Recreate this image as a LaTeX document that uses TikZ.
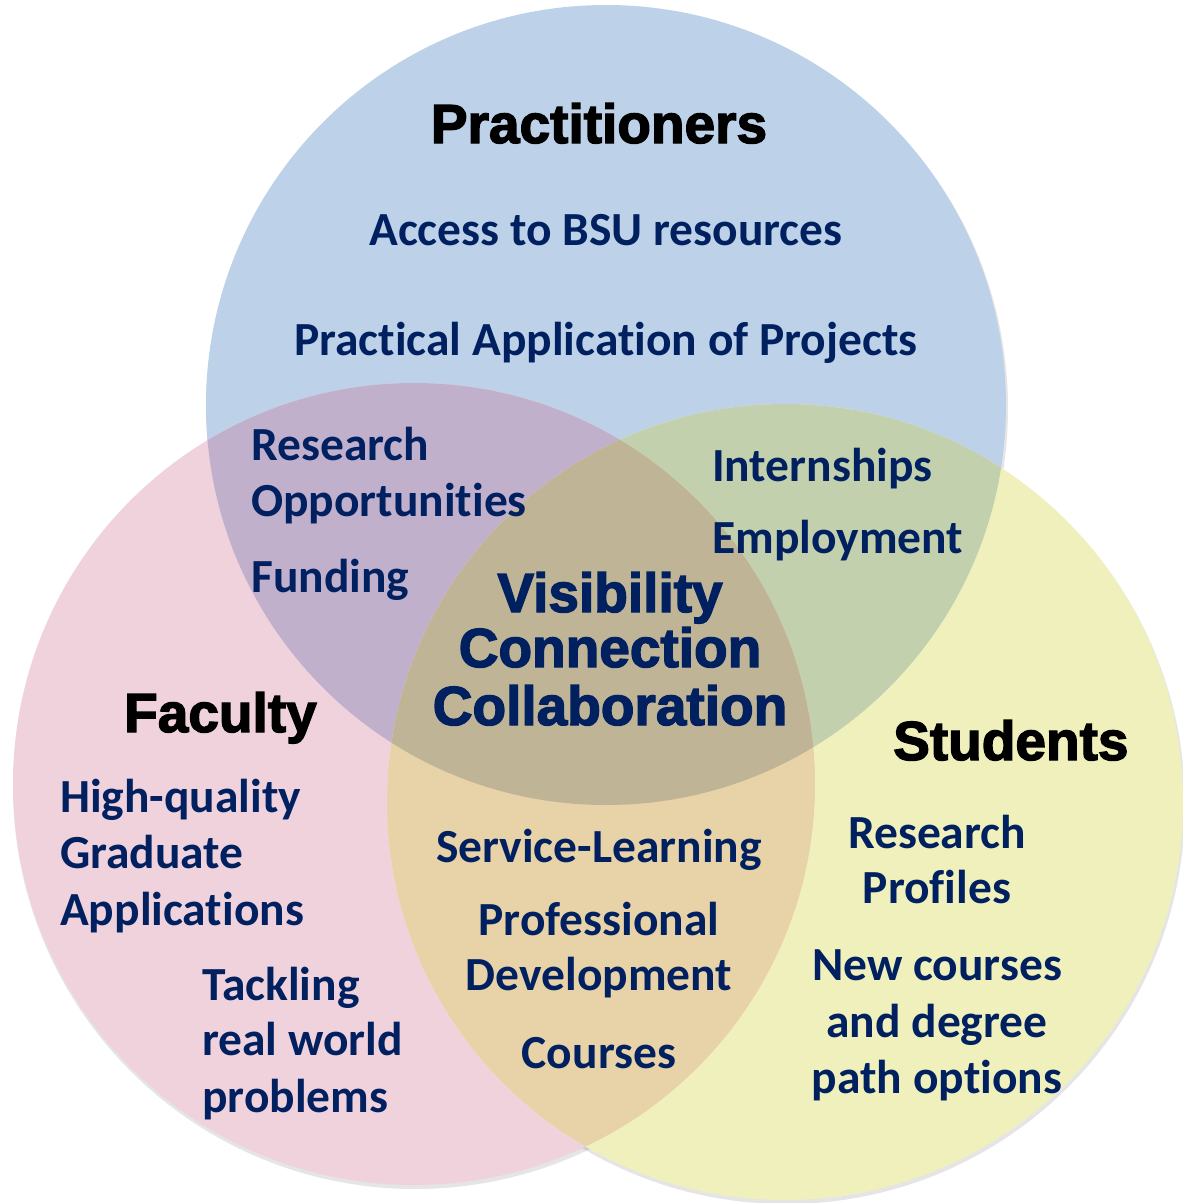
\documentclass[tikz,border=0pt]{standalone}
\usepackage{fontspec}
\setmainfont{Carlito}[Ligatures=NoCommon]
\newfontfamily\heavyfont[FakeBold=2.5]{Liberation Sans Bold}
\definecolor{cBlue}{HTML}{BDD2E8}
\definecolor{cPink}{HTML}{F0D2DD}
\definecolor{cYellow}{HTML}{F0F0BD}
\definecolor{cPurple}{HTML}{C0B0CC}
\definecolor{cGreen}{HTML}{C2D0AE}
\definecolor{cTan}{HTML}{E8D2A8}
\definecolor{cCenter}{HTML}{C0B496}
\definecolor{navy}{HTML}{002060}
\newcommand\bodyfnt{\fontsize{47.5}{55}\selectfont\bfseries}
\newcommand\titlefnt{\heavyfont\fontsize{55}{62}\selectfont}
\begin{document}
\begin{tikzpicture}[x=1pt,y=-1pt,
  body/.style={text=navy, font=\bodyfnt, inner sep=0pt},
  ttl/.style={text=black, font=\titlefnt, inner sep=0pt},
  ctr/.style={text=navy, font=\titlefnt, inner sep=0pt},
  shadowc/.style={fill=black, opacity=0.10}]
\useasboundingbox (0,0) rectangle (1183,1203);
\coordinate (B) at (606,405);
\coordinate (K) at (414,784);
\coordinate (Y) at (785,802);
% shadows
\fill[shadowc] ([shift={(1,3)}]B) circle[radius=401pt];
\fill[shadowc] ([shift={(1,3)}]K) circle[radius=402pt];
\fill[shadowc] ([shift={(1,3)}]Y) circle[radius=399pt];
% base fills
\fill[cBlue] (B) circle[radius=400pt];
\fill[cPink] (K) circle[radius=401pt];
\fill[cYellow] (Y) circle[radius=398pt];
% pairwise overlaps
\begin{scope}
  \clip (B) circle[radius=400pt];
  \fill[cPurple] (K) circle[radius=401pt];
  \fill[cGreen] (Y) circle[radius=398pt];
\end{scope}
\begin{scope}
  \clip (K) circle[radius=401pt];
  \fill[cTan] (Y) circle[radius=398pt];
\end{scope}
\begin{scope}
  \clip (B) circle[radius=400pt];
  \clip (K) circle[radius=401pt];
  \fill[cCenter] (Y) circle[radius=398pt];
\end{scope}
% titles
\node[ttl, anchor=base] (tP) at (599,143) {Practitioners};
\node[ttl, anchor=base west] (tF) at (124,732) {Faculty};
\node[ttl, anchor=base west] (tS) at (893,760) {Students};
% practitioners
\node[body, anchor=base] (p1) at (606,245) {Access to BSU resources};
\node[body, anchor=base] (p2) at (606,355) {Practical Application of Projects};
% blue/pink
\node[body, anchor=base west] (bp1) at (251,460) {Research};
\node[body, anchor=base west] (bp2) at (251,516) {Opportunities};
\node[body, anchor=base west] (bp3) at (251,592) {Funding};
% blue/yellow
\node[body, anchor=base west] (by1) at (712,481) {Internships};
\node[body, anchor=base west] (by2) at (712,553) {Employment};
% center
\node[ctr, anchor=base] (c1) at (610,612) {Visibility};
\node[ctr, anchor=base] (c2) at (610,667) {Connection};
\node[ctr, anchor=base] (c3) at (610,725) {Collaboration};
% faculty
\node[body, anchor=base west] (f1) at (60,812) {High-quality};
\node[body, anchor=base west] (f2) at (60,868) {Graduate};
\node[body, anchor=base west] (f3) at (60,925) {Applications};
\node[body, anchor=base west] (f4) at (202,1000) {Tackling};
\node[body, anchor=base west] (f5) at (202,1055) {real world};
\node[body, anchor=base west] (f6) at (202,1112) {problems};
% pink/yellow
\node[body, anchor=base] (py1) at (599,862) {Service-Learning};
\node[body, anchor=base] (py2) at (599,935) {Professional};
\node[body, anchor=base] (py3) at (599,990) {Development};
\node[body, anchor=base] (py4) at (599,1068) {Courses};
% students
\node[body, anchor=base] (s1) at (937,848) {Research};
\node[body, anchor=base] (s2) at (937,903) {Profiles};
\node[body, anchor=base] (s3) at (937,980) {New courses};
\node[body, anchor=base] (s4) at (937,1037) {and degree};
\node[body, anchor=base] (s5) at (937,1093) {path options};
\end{tikzpicture}
\end{document}
